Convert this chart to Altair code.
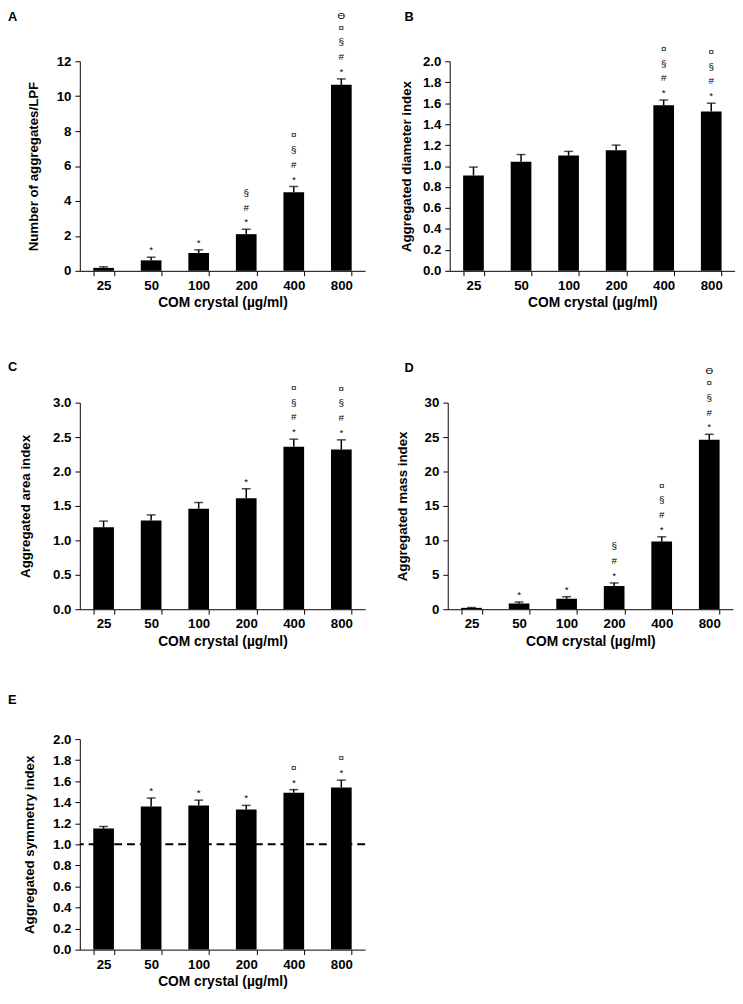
import altair as alt
import pandas as pd

conc = ["25", "50", "100", "200", "400", "800"]

a_mean = [0.17, 0.60, 1.02, 2.10, 4.50, 10.65]
a_err = [0.06, 0.18, 0.18, 0.28, 0.33, 0.34]
a_sig = [[], ["*"], ["*"], ["*", "#", "§"], ["*", "#", "§", "¤"], ["*", "#", "§", "¤", "ϴ"]]
a_ticks = [0, 2, 4, 6, 8, 10, 12]

b_mean = [0.91, 1.04, 1.10, 1.15, 1.58, 1.52]
b_err = [0.08, 0.07, 0.04, 0.05, 0.05, 0.08]
b_sig = [[], [], [], [], ["*", "#", "§", "¤"], ["*", "#", "§", "¤"]]
b_ticks = [0.0, 0.2, 0.4, 0.6, 0.8, 1.0, 1.2, 1.4, 1.6, 1.8, 2.0]

c_mean = [1.19, 1.29, 1.46, 1.61, 2.36, 2.32]
c_err = [0.09, 0.08, 0.09, 0.14, 0.11, 0.14]
c_sig = [[], [], [], ["*"], ["*", "#", "§", "¤"], ["*", "#", "§", "¤"]]
c_ticks = [0.0, 0.5, 1.0, 1.5, 2.0, 2.5, 3.0]

d_mean = [0.20, 0.85, 1.52, 3.37, 9.82, 24.6]
d_err = [0.05, 0.20, 0.30, 0.45, 0.70, 0.80]
d_sig = [[], ["*"], ["*"], ["*", "#", "§"], ["*", "#", "§", "¤"], ["*", "#", "§", "¤", "ϴ"]]
d_ticks = [0, 5, 10, 15, 20, 25, 30]

e_mean = [1.15, 1.36, 1.37, 1.33, 1.49, 1.54]
e_err = [0.02, 0.08, 0.05, 0.04, 0.03, 0.07]
e_sig = [[], ["*"], ["*"], ["*"], ["*", "¤"], ["*", "¤"]]
e_ticks = [0.0, 0.2, 0.4, 0.6, 0.8, 1.0, 1.2, 1.4, 1.6, 1.8, 2.0]
e_ref = [1.0]

FONT = "Liberation Sans"
W = 290
LEVEL_DY = [-4, -19, -34, -49, -61]


def panel(letter, lx, ly, h, mean, err, sig, ticks, fmt, ytitle, tpad, ref=None):
    df = pd.DataFrame({"conc": conc, "mean": mean, "err": err})
    df["top"] = df["mean"] + df["err"]
    rows = []
    for c, m, e, s in zip(conc, mean, err, sig):
        for k, sym in enumerate(s):
            rows.append({"conc": c, "top": m + e, "level": k, "sym": sym})
    ann = pd.DataFrame(rows)

    x = alt.X("conc:N", sort=conc,
              scale=alt.Scale(paddingInner=0.565, paddingOuter=0.2825),
              axis=alt.Axis(title="COM crystal (µg/ml)", labelAngle=0,
                            tickBand="extent", labelPadding=3, titlePadding=4))
    yscale = alt.Scale(domain=[ticks[0], ticks[-1]], nice=False)
    yaxis = alt.Axis(title=ytitle, values=ticks, format=fmt, tickCount=len(ticks),
                     labelOverlap=False, titlePadding=tpad, labelPadding=4)

    def Y(field):
        return alt.Y(field, scale=yscale, axis=yaxis)

    base = alt.Chart(df)
    layers = []
    if ref is not None:
        layers.append(
            alt.Chart(pd.DataFrame({"mean": ref})).mark_rule(
                color="black", strokeWidth=2, strokeDash=[8, 5]
            ).encode(y=Y("mean:Q"))
        )
    layers.append(base.mark_bar(color="black").encode(x=x, y=Y("mean:Q")))
    layers.append(base.mark_rule(color="black", strokeWidth=1.5).encode(
        x=x, y=Y("mean:Q"), y2="top:Q"))
    layers.append(base.mark_tick(color="black", size=9, thickness=1.5).encode(
        x=x, y=Y("top:Q")))
    for k in range(5):
        if len(ann) == 0:
            break
        sub = ann[ann["level"] == k]
        if len(sub) == 0:
            continue
        layers.append(
            alt.Chart(sub).mark_text(
                font=FONT, fontSize=10, color="black", baseline="alphabetic",
                dy=LEVEL_DY[k]
            ).encode(x=x, y=Y("top:Q"), text="sym:N")
        )
    layers.append(
        alt.Chart(pd.DataFrame({"t": [letter]})).mark_text(
            font=FONT, fontSize=13, fontWeight="bold", color="black",
            align="left", baseline="middle"
        ).encode(x=alt.value(lx), y=alt.value(ly), text="t:N")
    )
    return alt.layer(*layers).properties(width=W, height=h)


pA = panel("A", -73, -45, 213, a_mean, a_err, a_sig, a_ticks, "d", "Number of aggregates/LPF", 16)
pB = panel("B", -46, -45, 213, b_mean, b_err, b_sig, b_ticks, ".1f", "Aggregated diameter index", 9)
pC = panel("C", -73, -36, 210, c_mean, c_err, c_sig, c_ticks, ".1f", "Aggregated  area index", 20)
pD = panel("D", -44, -35, 210, d_mean, d_err, d_sig, d_ticks, "d", "Aggregated mass index", 15)
pE = panel("E", -73, -40, 214, e_mean, e_err, e_sig, e_ticks, ".1f", "Aggregated symmetry index", 16, ref=e_ref)

top_rows = alt.vconcat(
    alt.hconcat(pA, pB, spacing=35),
    alt.hconcat(pC, pD, spacing=30),
    spacing=52,
)

chart = alt.vconcat(top_rows, pE, spacing=46).properties(
    padding={"left": 0, "top": -6, "right": 0, "bottom": 0}
).configure_view(
    stroke=None
).configure_axis(
    grid=False, domainColor="black", domainWidth=1, tickColor="black", tickSize=5,
    labelFont=FONT, labelFontSize=13.5, labelFontWeight="bold", labelColor="black",
    labelOverlap=False,
    titleFont=FONT, titleFontSize=14, titleFontWeight="bold", titleColor="black",
).configure_axisY(titleFontSize=13.5)

chart.save("out.html", embed_options={"renderer": "svg", "actions": False})
